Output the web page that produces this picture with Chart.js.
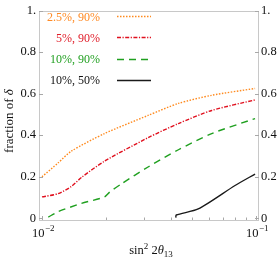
<!DOCTYPE html>
<html>
<head>
<meta charset="utf-8">
<script src="https://cdn.jsdelivr.net/npm/chart.js@4/dist/chart.umd.min.js"></script>
<style>
html,body{margin:0;padding:0;background:#fff;}
#wrap{width:278px;height:260px;}
</style>
</head>
<body>
<div id="wrap"><canvas id="c" width="278" height="260"></canvas></div>
<script>
// ---- data ----
const seriesLabels = ["2.5%, 90%", "5%, 90%", "10%, 90%", "10%, 50%"];
const orangeX = [0.0100, 0.0119, 0.0137, 0.0196, 0.0313, 0.0434, 0.0621, 0.0990];
const orangeY = [0.200, 0.267, 0.323, 0.408, 0.495, 0.553, 0.592, 0.625];
const redX = [0.0100, 0.0119, 0.0137, 0.0153, 0.0196, 0.0313, 0.0434, 0.0621, 0.0990];
const redY = [0.103, 0.119, 0.153, 0.197, 0.275, 0.388, 0.456, 0.519, 0.570];
const greenX = [0.0107, 0.0119, 0.0153, 0.0196, 0.0207, 0.0235, 0.0313, 0.0434, 0.0621, 0.0990];
const greenY = [0.006, 0.032, 0.072, 0.103, 0.126, 0.166, 0.247, 0.330, 0.408, 0.480];
const blackX = [0.0422, 0.0424, 0.0537, 0.0798, 0.0990];
const blackY = [0.003, 0.016, 0.045, 0.158, 0.213];
const yTicks = [0, 0.2, 0.4, 0.6, 0.8, 1.0];
const yTickLabels = ["0", "0.2", "0.4", "0.6", "0.8", "1."];
const xMajorTicks = [0.01, 0.1];
const xMajorExp = ["\u22122", "\u22121"];
const xMinorTicks = [0.02, 0.03, 0.04, 0.05, 0.06, 0.07, 0.08, 0.09];

const colors = ["#ff8a1e", "#e0101e", "#20a020", "#1a1a1a"];
const textColors = ["#ff8a24", "#e01c28", "#22a022", "#111111"];
const dashes = [[1.5, 1.5], [4, 1.5, 1.2, 1.5], [7, 5], []];
const SERIF = "'Liberation Serif', 'DejaVu Serif', serif";

function pts(xs, ys) { return xs.map((x, i) => ({x: x, y: ys[i]})); }
const seriesData = [pts(orangeX, orangeY), pts(redX, redY), pts(greenX, greenY), pts(blackX, blackY)];

const datasets = seriesData.map((d, i) => ({
  label: seriesLabels[i],
  data: d,
  showLine: true,
  borderColor: colors[i],
  borderWidth: 1.4,
  borderDash: dashes[i],
  pointRadius: 0,
  tension: 0.25,
  fill: false,
  xAxisID: 'x',
  yAxisID: 'y'
}));

const decor = {
  id: 'decor',
  afterDatasetsDraw(chart) {
    const ctx = chart.ctx, a = chart.chartArea;
    const xs = chart.scales.x, ys = chart.scales.y;
    ctx.save();
    // frame
    ctx.strokeStyle = '#c8c8c8';
    ctx.lineWidth = 1;
    ctx.setLineDash([]);
    ctx.strokeRect(Math.round(a.left) + 0.5, Math.round(a.top) + 0.5,
                   Math.round(a.right - a.left) - 1, Math.round(a.bottom - a.top) - 1);
    // y ticks
    ctx.strokeStyle = '#a8a8a8';
    ctx.beginPath();
    yTicks.forEach(v => {
      const py = Math.round(ys.getPixelForValue(v)) + 0.5;
      ctx.moveTo(a.left, py); ctx.lineTo(a.left + 4, py);
      ctx.moveTo(a.right, py); ctx.lineTo(a.right - 4, py);
    });
    // x ticks
    xMajorTicks.forEach(v => {
      const px = Math.round(xs.getPixelForValue(v)) + 0.5;
      ctx.moveTo(px, a.bottom); ctx.lineTo(px, a.bottom - 4);
    });
    xMinorTicks.forEach(v => {
      const px = Math.round(xs.getPixelForValue(v)) + 0.5;
      ctx.moveTo(px, a.bottom); ctx.lineTo(px, a.bottom - 2.5);
    });
    ctx.stroke();

    // x tick labels with superscripts
    ctx.fillStyle = '#111';
    ctx.textBaseline = 'alphabetic';
    xMajorTicks.forEach((v, i) => {
      const px = xs.getPixelForValue(v);
      ctx.font = '12.5px ' + SERIF;
      const w1 = ctx.measureText('10').width;
      ctx.font = '9px ' + SERIF;
      const w2 = ctx.measureText(xMajorExp[i]).width;
      const x0 = px - (w1 + w2) / 2 + 1;
      ctx.font = '12.5px ' + SERIF;
      ctx.textAlign = 'left';
      ctx.fillText('10', x0, 237);
      ctx.font = '9px ' + SERIF;
      ctx.fillText(xMajorExp[i], x0 + w1 + 0.5, 231);
    });

    // x title: sin^2 2θ_13
    const cx = (a.left + a.right) / 2 + 2;
    const base = 254;
    const parts = [
      {t: 'sin', f: 12.5, dy: 0},
      {t: '2', f: 9, dy: -5},
      {t: ' 2', f: 12.5, dy: 0},
      {t: '\u03b8', f: 12.5, dy: 0, it: true},
      {t: '13', f: 9, dy: 3}
    ];
    let total = 0;
    parts.forEach(p => { ctx.font = (p.it ? 'italic ' : '') + p.f + 'px ' + SERIF; p.w = ctx.measureText(p.t).width; total += p.w; });
    let x = cx - total / 2;
    parts.forEach(p => {
      ctx.font = (p.it ? 'italic ' : '') + p.f + 'px ' + SERIF;
      ctx.fillText(p.t, x, base + p.dy);
      x += p.w;
    });

    // y title
    ctx.save();
    ctx.translate(10, 121);
    ctx.rotate(-Math.PI / 2);
    ctx.font = '13px ' + SERIF;
    const wA = ctx.measureText('fraction of ').width;
    ctx.font = 'italic 13px ' + SERIF;
    const wB = ctx.measureText('\u03b4').width;
    ctx.textBaseline = 'middle';
    ctx.font = '13px ' + SERIF;
    ctx.fillText('fraction of ', -(wA + wB) / 2, 0);
    ctx.font = 'italic 13px ' + SERIF;
    ctx.fillText('\u03b4', -(wA + wB) / 2 + wA, 0);
    ctx.restore();

    // legend
    const legY = [17, 38, 59.5, 80.5];
    ctx.textBaseline = 'middle';
    ctx.textAlign = 'right';
    ctx.font = '12px ' + SERIF;
    seriesLabels.forEach((lab, i) => {
      ctx.fillStyle = textColors[i];
      ctx.fillText(lab, 100, legY[i] + 0.5);
      ctx.strokeStyle = colors[i];
      ctx.lineWidth = i === 3 ? 1.6 : 1.5;
      ctx.setLineDash(dashes[i]);
      ctx.beginPath();
      ctx.moveTo(117, Math.round(legY[i] - 1) + 0.5);
      ctx.lineTo(151, Math.round(legY[i] - 1) + 0.5);
      ctx.stroke();
    });
    ctx.restore();
  }
};

function yCallback(v) {
  const i = yTicks.findIndex(t => Math.abs(t - v) < 1e-9);
  return i >= 0 ? yTickLabels[i] : '';
}

new Chart(document.getElementById('c'), {
  type: 'scatter',
  data: { datasets: datasets },
  options: {
    responsive: false,
    animation: false,
    devicePixelRatio: 1,
    layout: { padding: { top: 5, left: 0, right: 0, bottom: 0 } },
    plugins: { legend: { display: false }, tooltip: { enabled: false }, title: { display: false } },
    scales: {
      x: {
        type: 'logarithmic',
        position: 'bottom',
        min: Math.pow(10, -2.014),
        max: Math.pow(10, -0.986),
        grid: { display: false },
        border: { display: false },
        ticks: { display: false },
        afterBuildTicks: s => { s.ticks = xMajorTicks.concat(xMinorTicks).map(v => ({value: v})); },
        afterFit: s => { s.height = 40; }
      },
      y: {
        type: 'linear',
        position: 'left',
        min: -0.008,
        max: 1.0,
        grid: { display: false, drawTicks: false },
        border: { display: false },
        ticks: { color: '#111', font: { family: SERIF, size: 12.5 }, padding: 3, callback: yCallback },
        afterBuildTicks: s => { s.ticks = yTicks.map(v => ({value: v})); },
        afterFit: s => { s.width = 39; }
      },
      y2: {
        type: 'linear',
        position: 'right',
        min: -0.008,
        max: 1.0,
        grid: { display: false, drawTicks: false },
        border: { display: false },
        ticks: { color: '#111', font: { family: SERIF, size: 12.5 }, padding: 2, callback: yCallback },
        afterBuildTicks: s => { s.ticks = yTicks.map(v => ({value: v})); },
        afterFit: s => { s.width = 19; }
      }
    }
  },
  plugins: [decor]
});
</script>
</body>
</html>
